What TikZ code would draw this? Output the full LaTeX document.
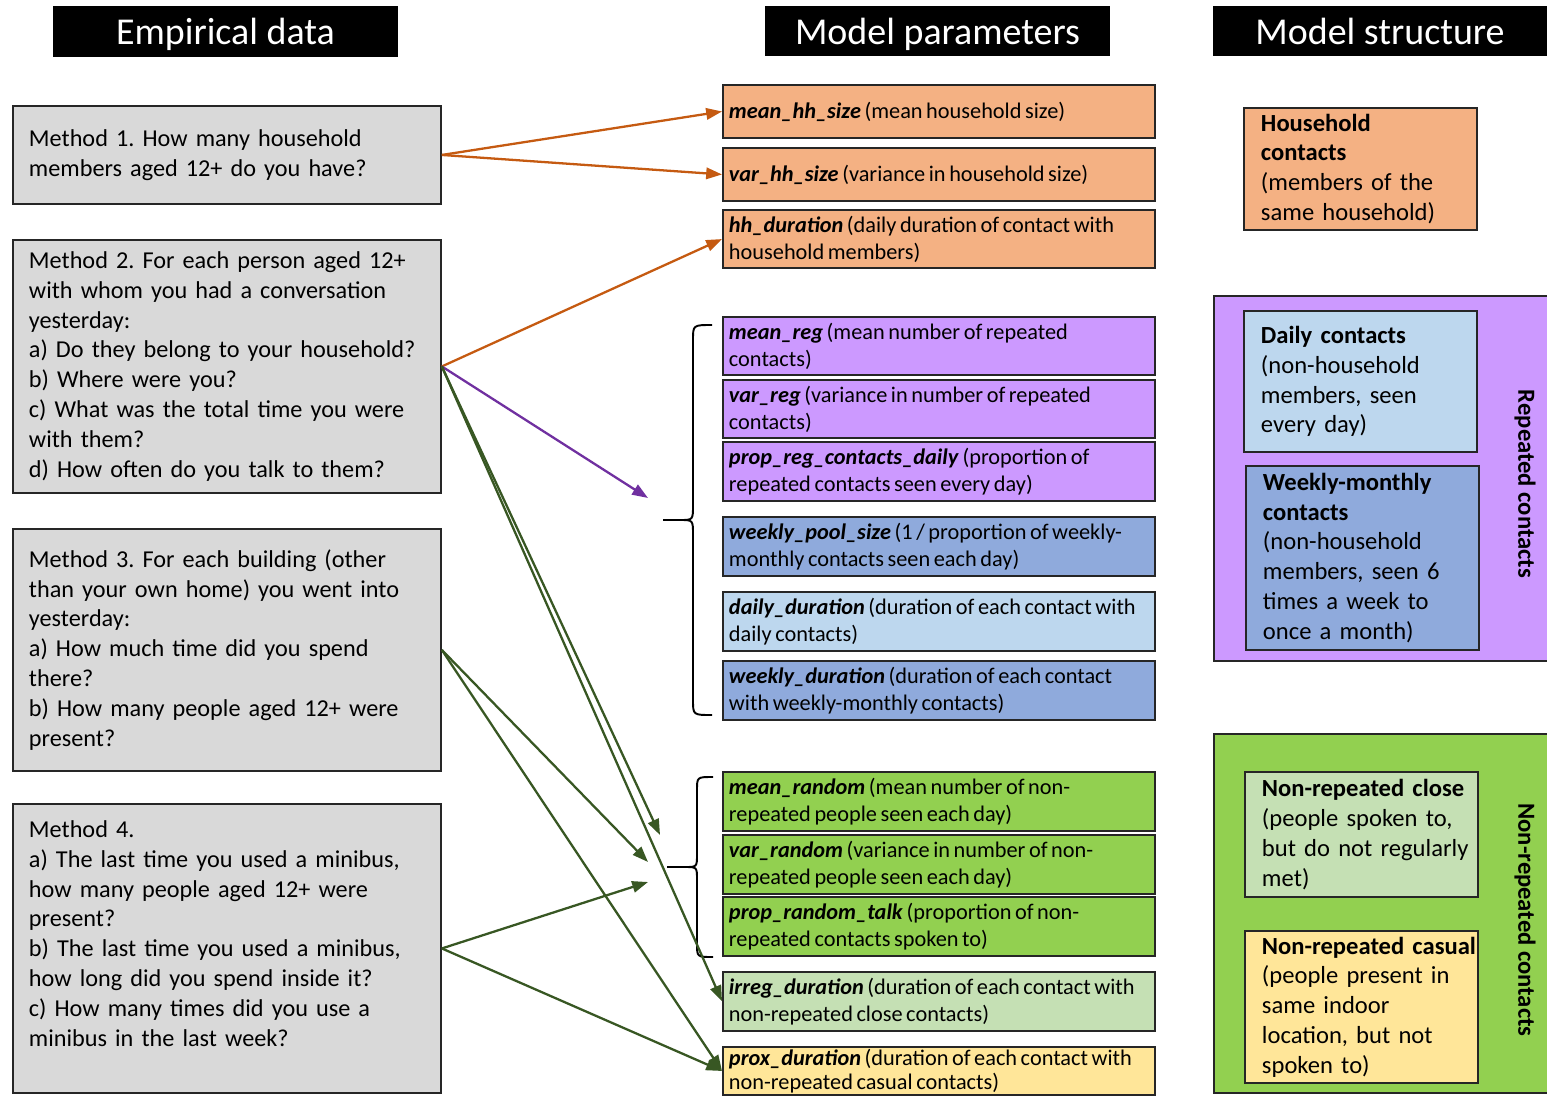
\documentclass[tikz,border=0pt]{standalone}
\usepackage{fontspec}
\setmainfont{Carlito}
\usetikzlibrary{arrows.meta}

\definecolor{boxgray}{HTML}{D9D9D9}
\definecolor{hhfill}{HTML}{F4B183}
\definecolor{regfill}{HTML}{CC99FF}
\definecolor{weekfill}{HTML}{8FAADC}
\definecolor{dayfill}{HTML}{BDD7EE}
\definecolor{randfill}{HTML}{92D050}
\definecolor{closefill}{HTML}{C5E0B4}
\definecolor{casualfill}{HTML}{FFE699}
\definecolor{hharrow}{HTML}{C55A11}
\definecolor{regarrow}{HTML}{7030A0}
\definecolor{randarrow}{HTML}{385723}

\newcommand{\parname}[1]{\textbf{\textit{#1}}}
\frenchspacing

\begin{document}
\begin{tikzpicture}[x=0.02cm, y=-0.02cm,
    head/.style={fill=black, text=white, inner sep=0pt, minimum height=1.01cm, text height=0.54cm, text depth=0cm, font=\fontsize{21.6}{26}\selectfont},
    indent/.style={execute at begin node={\leftskip=#1}},
    method/.style={draw=black!85, line width=1.1pt, fill=boxgray, anchor=north west, text width=8.2cm, inner xsep=0.18cm, indent=0.14cm, align=left, font=\fontsize{13.8}{17}\selectfont},
    param/.style={draw=black!85, line width=1.1pt, anchor=north west, text width=8.4cm, inner xsep=0.12cm, minimum height=1.06cm, align=left, font=\fontsize{12.7}{15.4}\selectfont, execute at begin node={\spaceskip=0.16em\relax}},
    struct/.style={draw=black!85, line width=1.1pt, anchor=north west, text width=4.32cm, inner xsep=0.17cm, indent=0.17cm, align=left, font=\fontsize{14}{17}\selectfont},
    group/.style={draw=black!85, line width=1.1pt, anchor=north west, minimum width=6.7cm},
    side/.style={rotate=-90, font=\fontsize{14}{16}\selectfont\bfseries},
    arr/.style={-{Triangle[length=9pt, width=6.5pt]}, line width=1.3pt}]
    \useasboundingbox (0,0) rectangle (1547,1095);

    % Column headers
    \node[head, minimum width=6.9cm] (hdata) at (225.5,31.5) {Empirical data};
    \node[head, minimum width=6.9cm] (hpar) at (937.5,31) {Model parameters};
    \node[head, minimum width=6.7cm] (hstruct) at (1380,31) {Model structure};

    % Survey methods
    \node[method, minimum height=1.96cm] (m1) at (12,105) {Method 1. How many household\\ members aged 12+ do you have?};
    \node[method, minimum height=5.06cm] (m2) at (12,239) {Method 2. For each person aged 12+\\ with whom you had a conversation\\ yesterday:\\ a) Do they belong to your household?\\ b) Where were you?\\ c) What was the total time you were\\ with them?\\ d) How often do you talk to them?};
    \node[method, minimum height=4.84cm] (m3) at (12,528) {Method 3. For each building (other\\ than your own home) you went into\\ yesterday:\\ a) How much time did you spend\\ there?\\ b) How many people aged 12+ were\\ present?};
    \node[method, minimum height=5.78cm] (m4) at (12,803) {Method 4.\\ a) The last time you used a minibus,\\ how many people aged 12+ were\\ present?\\ b) The last time you used a minibus,\\ how long did you spend inside it?\\ c) How many times did you use a\\ minibus in the last week?\\ ~};

    % Household parameters
    \node[param, fill=hhfill] (p1) at (722,84) {\parname{mean\_hh\_size} (mean household size)};
    \node[param, fill=hhfill] (p2) at (722,147) {\parname{var\_hh\_size} (variance in household size)};
    \node[param, fill=hhfill] (p3) at (722,209) {\parname{hh\_duration} (daily duration of contact with\\ household members)};

    % Repeated contact parameters
    \node[param, fill=regfill] (p4) at (722,316) {\parname{mean\_reg} (mean number of repeated\\ contacts)};
    \node[param, fill=regfill] (p5) at (722,379) {\parname{var\_reg} (variance in number of repeated\\ contacts)};
    \node[param, fill=regfill] (p6) at (722,441) {\parname{prop\_reg\_contacts\_daily} (proportion of\\ repeated contacts seen every day)};
    \node[param, fill=weekfill] (p7) at (722,516) {\parname{weekly\_pool\_size} (1 / proportion of weekly-\\ monthly contacts seen each day)};
    \node[param, fill=dayfill] (p8) at (722,591) {\parname{daily\_duration} (duration of each contact with\\ daily contacts)};
    \node[param, fill=weekfill] (p9) at (722,660) {\parname{weekly\_duration} (duration of each contact\\ with weekly-monthly contacts)};

    % Non-repeated contact parameters
    \node[param, fill=randfill] (p10) at (722,771) {\parname{mean\_random} (mean number of non-\\ repeated people seen each day)};
    \node[param, fill=randfill] (p11) at (722,834) {\parname{var\_random} (variance in number of non-\\ repeated people seen each day)};
    \node[param, fill=randfill] (p12) at (722,896) {\parname{prop\_random\_talk} (proportion of non-\\ repeated contacts spoken to)};
    \node[param, fill=closefill] (p13) at (722,971) {\parname{irreg\_duration} (duration of each contact with\\ non-repeated close contacts)};
    \node[param, fill=casualfill, minimum height=0.96cm, inner ysep=0.5pt, font=\fontsize{12.7}{14}\selectfont] (p14) at (722,1046) {\parname{prox\_duration} (duration of each contact with\\ non-repeated casual contacts)};

    % Braces round the parameter groups
    \draw[line width=1.1pt] (712,325) .. controls (693,325) .. (693,340) -- (693,505) .. controls (693,520) .. (680,520) -- (663,520)
        (680,520) .. controls (693,520) .. (693,535) -- (693,700) .. controls (693,715) .. (712,715);
    \draw[line width=1.1pt] (713,777) .. controls (697,777) .. (697,790) -- (697,854) .. controls (697,867) .. (685,867) -- (667,867)
        (685,867) .. controls (697,867) .. (697,880) -- (697,944) .. controls (697,957) .. (713,957);

    % Model structure
    \node[struct, fill=hhfill, minimum width=4.66cm, minimum height=2.36cm] (s1) at (1243,107) {\textbf{Household}\\ \textbf{contacts}\\ (members of the\\ same household)};
    \node[group, fill=regfill, minimum height=7.3cm] (rep) at (1213,295) {};
    \node[struct, fill=dayfill, minimum width=4.66cm, minimum height=2.82cm] (s2) at (1243,310) {\textbf{Daily contacts}\\ (non-household\\ members, seen\\ every day)};
    \node[struct, fill=weekfill, minimum width=4.62cm, minimum height=3.68cm] (s3) at (1245,465) {\textbf{Weekly-monthly}\\ \textbf{contacts}\\ (non-household\\ members, seen 6\\ times a week to\\ once a month)};
    \node[side] (replab) at (1525,484) {Repeated contacts};
    \node[group, fill=randfill, minimum height=7.18cm] (nonrep) at (1213,733) {};
    \node[struct, fill=closefill, minimum width=4.64cm, minimum height=2.5cm] (s4) at (1244,771) {\textbf{Non-repeated close}\\ (people spoken to,\\ but do not regularly\\ met)};
    \node[struct, fill=casualfill, minimum width=4.64cm, minimum height=2.94cm] (s5) at (1244,930) {\mbox{\textbf{Non-repeated casual}}\\ (people present in\\ same indoor\\ location, but not\\ spoken to)};
    \node[side] (nonreplab) at (1525,920) {Non-repeated contacts};

    % Free ends of arrows that point at a whole group
    \coordinate (regtip) at (648,498);
    \coordinate (randa) at (660,835);
    \coordinate (randb) at (648,862);
    \coordinate (randc) at (648,882);

    % Arrows from methods to parameters
    \draw[arr, hharrow] (m1.east) -- (p1.west);
    \draw[arr, hharrow] (m1.east) -- (p2.west);
    \draw[arr, hharrow] (m2.east) -- (p3.west);
    \draw[arr, regarrow] (m2.east) -- (regtip);
    \draw[arr, randarrow] (m2.east) -- (randa);
    \draw[arr, randarrow] (m2.east) -- (p13.west);
    \draw[arr, randarrow] (m3.east) -- (randb);
    \draw[arr, randarrow] (m3.east) -- (p14.west);
    \draw[arr, randarrow] (m4.east) -- (randc);
    \draw[arr, randarrow] (m4.east) -- (p14.west);
\end{tikzpicture}
\end{document}
